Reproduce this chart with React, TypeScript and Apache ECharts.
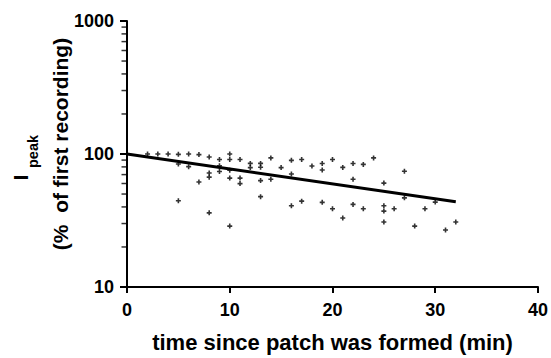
import React, { useEffect, useRef } from "react";
import * as echarts from "echarts";

const times = [
  2, 3, 4,
  5, 5, 5,
  6, 6,
  7, 7,
  8, 8, 8, 8,
  9, 9, 9,
  10, 10, 10, 10, 10,
  11, 11, 11,
  12, 12,
  13, 13, 13, 13,
  14, 14,
  15,
  16, 16, 16,
  17, 17,
  18,
  19, 19, 19,
  20, 20,
  21, 21,
  22, 22, 22,
  23, 23,
  24,
  25, 25, 25, 25,
  26,
  27, 27,
  28, 29, 30, 31, 32,
];
const ipeak = [
  100, 100, 100,
  99.4, 84, 44.5,
  100, 80.3,
  99, 61.6,
  95, 72, 67, 36.1,
  91, 81.5, 73.8,
  100, 90.8, 75.5, 65.9, 28.7,
  91, 65.9, 59.9,
  85, 79,
  85, 79.5, 63.1, 47.8,
  93.5, 64.6,
  79,
  89.6, 70.8, 40.8,
  91, 44.2,
  81.3,
  84.8, 75.9, 43.3,
  91, 38.8,
  79.3, 33.0,
  84.8, 64.6, 41.8,
  83.5, 38.8,
  93.5,
  60.4, 40.8, 37.2, 30.8,
  38.8,
  74.2, 46.8,
  28.7, 38.8, 43.5, 26.8, 30.8,
];
const fitTimes = [0, 32];
const fitValues = [100, 43.7];

const xTicks = [0, 10, 20, 30, 40];
const yMajor = [10, 100, 1000];
const yMinor = [20, 30, 40, 50, 60, 70, 80, 90, 200, 300, 400, 500, 600, 700, 800, 900];

const FONT = "Liberation Sans";

export default function App() {
  const ref = useRef<HTMLDivElement>(null);
  useEffect(() => {
    if (!ref.current) return;
    const chart = echarts.init(ref.current, null, { renderer: "svg" });
    const plus = "path://M0,1.7H1.7V0H3.3V1.7H5V3.3H3.3V5H1.7V3.3H0Z";
    const minorTick = "path://M0,0H5V1.5H0Z";
    chart.setOption({
      animation: false,
      backgroundColor: "#ffffff",
      grid: { left: 127, right: 13, top: 21, bottom: 65, containLabel: false },
      xAxis: {
        type: "value",
        min: xTicks[0],
        max: xTicks[xTicks.length - 1],
        interval: 10,
        axisLine: { show: true, lineStyle: { color: "#000", width: 2 } },
        axisTick: { show: true, length: 6, lineStyle: { color: "#000", width: 2 } },
        splitLine: { show: false },
        axisLabel: {
          color: "#000",
          fontFamily: FONT,
          fontWeight: "bold",
          fontSize: 18,
          margin: 14,
        },
        name: "time since patch was formed (min)",
        nameLocation: "middle",
        nameGap: 44,
        nameTextStyle: { color: "#000", fontFamily: FONT, fontWeight: "bold", fontSize: 22 },
      },
      yAxis: {
        type: "log",
        logBase: 10,
        min: yMajor[0],
        max: yMajor[yMajor.length - 1],
        axisLine: { show: true, lineStyle: { color: "#000", width: 2 } },
        axisTick: { show: true, length: 7, lineStyle: { color: "#000", width: 2 } },
        splitLine: { show: false },
        axisLabel: {
          color: "#000",
          fontFamily: FONT,
          fontWeight: "bold",
          fontSize: 18,
          margin: 13,
          formatter: (v: number) => String(v),
        },
      },
      graphic: [
        {
          type: "text",
          x: 60,
          y: 144,
          rotation: Math.PI / 2,
          style: {
            text: "(%\u00a0\u00a0of first recording)",
            fontFamily: FONT,
            fontWeight: "bold",
            fontSize: 21,
            fill: "#000",
            align: "center",
            verticalAlign: "middle",
          },
        },
        {
          type: "text",
          x: 21,
          y: 177.5,
          rotation: Math.PI / 2,
          style: {
            text: "I",
            fontFamily: FONT,
            fontWeight: "bold",
            fontSize: 20,
            fill: "#000",
            align: "center",
            verticalAlign: "middle",
          },
        },
        {
          type: "text",
          x: 33,
          y: 151.5,
          rotation: Math.PI / 2,
          style: {
            text: "peak",
            fontFamily: FONT,
            fontWeight: "bold",
            fontSize: 14.5,
            fill: "#000",
            align: "center",
            verticalAlign: "middle",
          },
        },
      ],
      series: [
        {
          type: "scatter",
          data: yMinor.map((v) => [0, v]),
          symbol: minorTick,
          symbolSize: [5, 1.5],
          symbolOffset: [-3, 0],
          itemStyle: { color: "#000" },
          clip: false,
          silent: true,
          z: 1,
        },
        {
          type: "scatter",
          data: times.map((t, i) => [t, ipeak[i]]),
          symbol: plus,
          symbolSize: 5,
          itemStyle: { color: "#000" },
          silent: true,
        },
        {
          type: "line",
          data: fitTimes.map((t, i) => [t, fitValues[i]]),
          showSymbol: false,
          lineStyle: { color: "#000", width: 3 },
          silent: true,
        },
      ],
    });
    return () => chart.dispose();
  }, []);
  return (
    <div
      ref={ref}
      style={{ position: "fixed", left: 0, top: 0, width: 551, height: 358, background: "#fff" }}
    />
  );
}
